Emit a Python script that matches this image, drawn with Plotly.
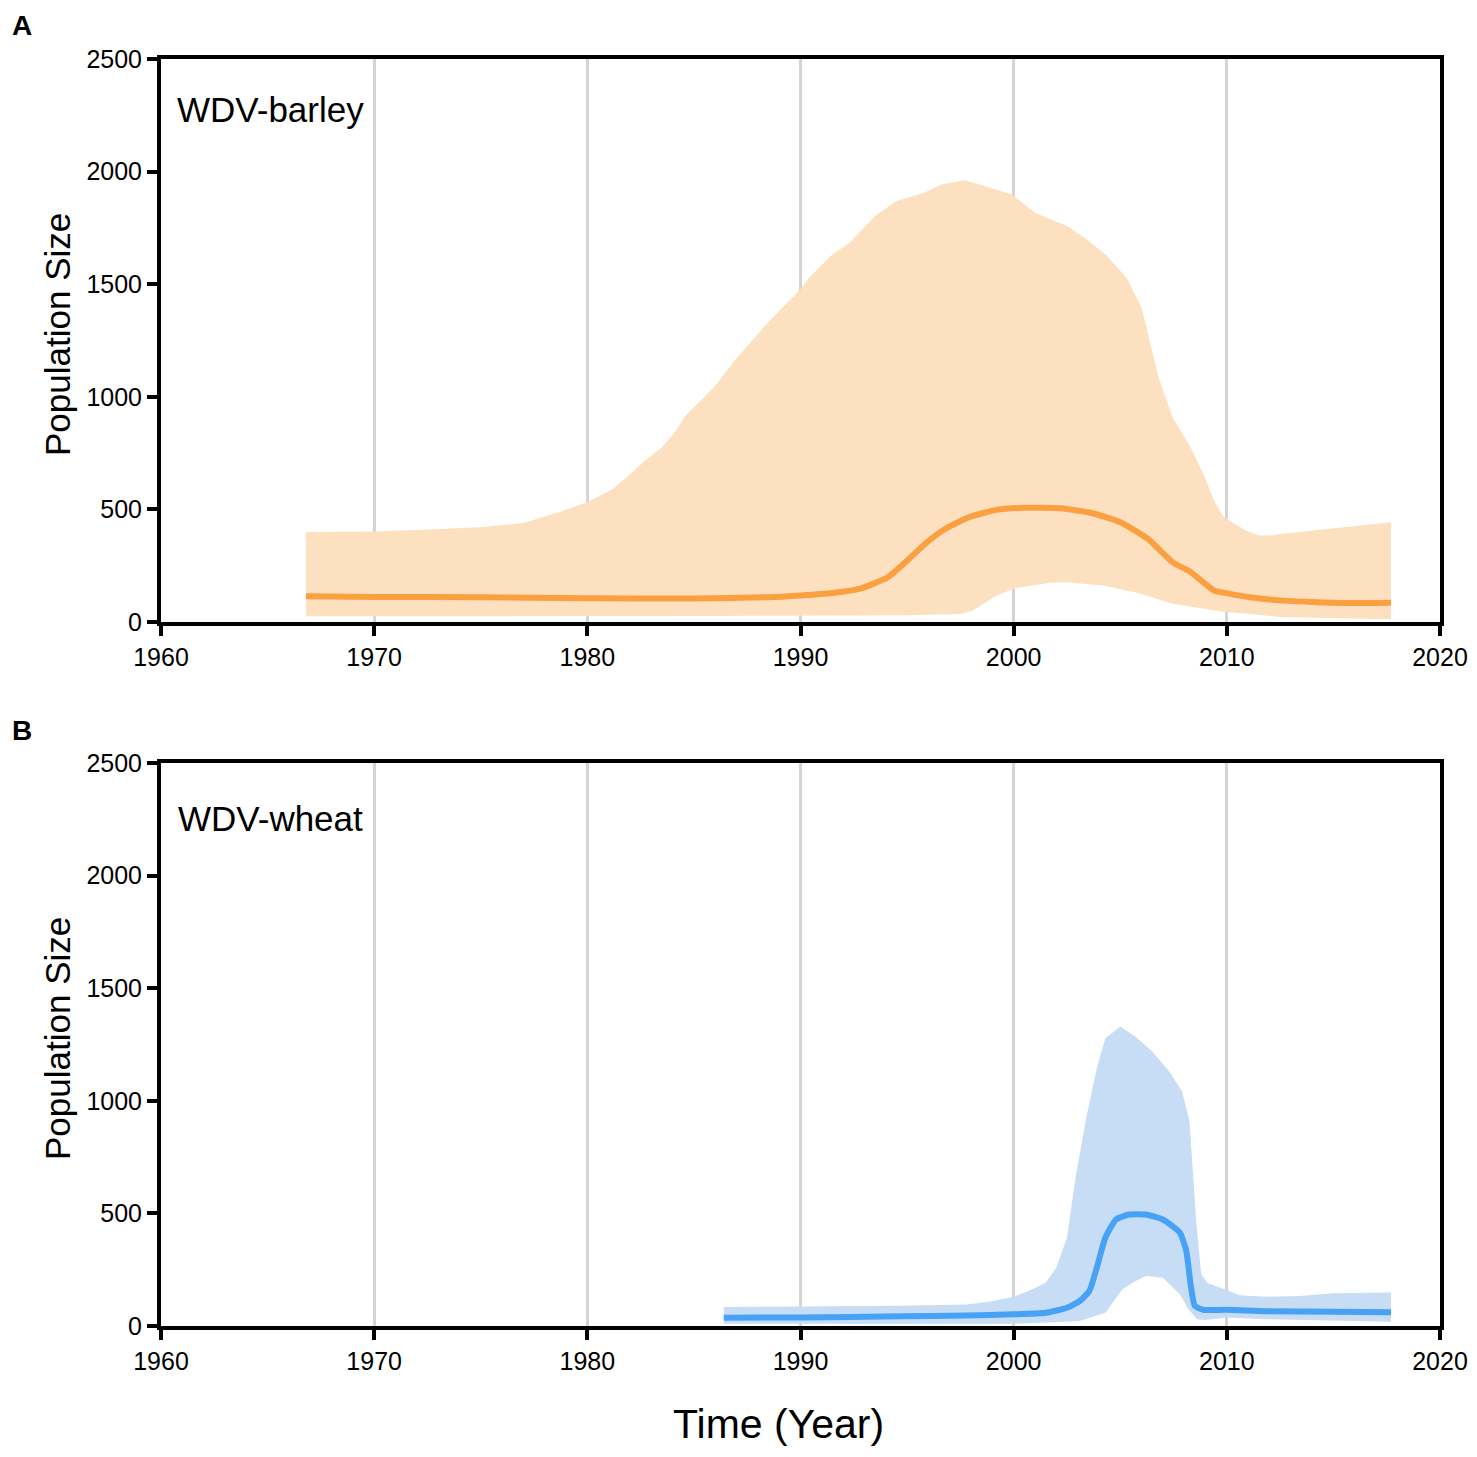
import plotly.graph_objects as go

# WDV-barley (panel A): upper / lower bounds of the band and the median
barley_upper_year = [1966.8, 1970, 1972, 1975, 1977, 1978.7, 1980, 1981.2, 1982.1, 1982.8,
                     1983.5, 1984.1, 1984.6, 1985.2, 1986.0, 1986.9, 1988.4, 1990.0, 1990.4,
                     1991.5, 1992.3, 1993.5, 1994.5, 1995.8, 1996.6, 1997.7, 1998.6, 1999.9,
                     2001.0, 2001.9, 2002.5, 2003.3, 2004.3, 2005.3, 2006.0, 2006.8, 2007.45,
                     2008.3, 2008.9, 2009.4, 2009.8, 2010.1, 2010.9, 2011.5, 2012.1, 2012.5,
                     2014.0, 2015.6, 2017.2, 2017.7]
barley_upper = [400, 402, 408, 421, 440, 488, 532, 591, 665, 724,
                776, 842, 916, 975, 1049, 1160, 1322, 1478, 1529,
                1633, 1684, 1803, 1869, 1906, 1943, 1962, 1935, 1899,
                1817, 1780, 1758, 1707, 1633, 1529, 1396, 1086, 909,
                776, 657, 539, 473, 451, 406, 384, 384, 391,
                406, 424, 438, 443]

barley_lower_year = [1966.8, 1975, 1985, 1995, 1997.5, 1998.1, 1999.2, 2000.1, 2001.7, 2002.5,
                     2004.2, 2005.8, 2007.45, 2009.9, 2011.0, 2012.5, 2017.7]
barley_lower = [25, 25, 27, 30, 35, 52, 118, 151, 174, 177,
                162, 130, 81, 44, 37, 22, 12]

barley_med_year = [1966.8, 1970, 1975, 1980, 1985, 1988.5, 1990, 1991.5, 1992.8, 1994.1,
                   1995.1, 1995.95, 1996.8, 1997.9, 1999.2, 2000.5, 2002.2, 2003.7, 2005.0,
                   2006.3, 2007.45, 2008.3, 2009.4, 2010.1, 2011.0, 2012.5, 2014.0, 2015.6,
                   2017.7]
barley_med = [114, 111, 110, 106, 104, 110, 118, 129, 148, 199,
              281, 355, 414, 465, 498, 507, 505, 483, 443,
              369, 266, 222, 140, 126, 111, 96, 89, 84,
              86]

# WDV-wheat (panel B)
wheat_upper_year = [1986.4, 1990, 1994.7, 1997.8, 1999.0, 2000.0, 2000.7, 2001.5, 2002.0, 2002.5,
                    2002.9, 2003.4, 2003.9, 2004.3, 2005.0, 2005.7, 2006.5, 2007.3, 2007.9,
                    2008.25, 2008.55, 2008.8, 2009.1, 2010.0, 2010.6, 2011.8, 2013.4, 2015.0,
                    2016.5, 2017.7]
wheat_upper = [84, 87, 90, 96, 110, 130, 155, 192, 259, 392,
               657, 923, 1145, 1278, 1330, 1285, 1219, 1130, 1042,
               909, 480, 229, 190, 160, 137, 130, 133, 145,
               149, 149]

wheat_lower_year = [1986.4, 1995, 2000, 2003.1, 2004.3, 2005.1, 2005.7, 2006.2, 2007.0, 2007.8,
                    2008.2, 2008.6, 2009.0, 2010.0, 2011.8, 2015.0, 2017.7]
wheat_lower = [10, 10, 10, 22, 59, 163, 199, 222, 214, 140,
               74, 30, 27, 38, 30, 24, 19]

wheat_med_year = [1986.4, 1990, 1994.7, 1997.8, 2000.0, 2001.5, 2002.5, 2003.1, 2003.55, 2003.9,
                  2004.3, 2004.8, 2005.4, 2006.2, 2007.0, 2007.8, 2008.1, 2008.3, 2008.5,
                  2008.9, 2010.0, 2011.8, 2015.0, 2017.7]
wheat_med = [37, 38, 43, 47, 52, 59, 81, 111, 155, 259,
             392, 473, 495, 495, 473, 414, 332, 185, 89,
             72, 72, 66, 63, 61]

year_ticks = [1960, 1970, 1980, 1990, 2000, 2010, 2020]
size_ticks = [0, 500, 1000, 1500, 2000, 2500]

FONT = "Liberation Sans, Arial, sans-serif"
ORANGE = "#fba040"
ORANGE_FILL = "#fde0c0"
BLUE = "#47a2f6"
BLUE_FILL = "#c7ddf6"

# the page body has an 8px margin, so the figure is drawn 16px smaller
W, H = 1461, 1441
OFF = 8


def px(x):
    return (x - OFF) / W


def py(y):
    return 1 - (y - OFF) / H


fig = go.Figure()


def add_panel(fig, up_x, up_y, lo_x, lo_y, med_x, med_y, line_col, fill_col, xa, ya):
    # band as one closed polygon: upper edge, then lower edge reversed
    fig.add_trace(go.Scatter(
        x=up_x + lo_x[::-1], y=up_y + lo_y[::-1],
        fill="toself", fillcolor=fill_col, mode="lines",
        line=dict(width=0, color=fill_col),
        xaxis=xa, yaxis=ya, hoverinfo="skip", showlegend=False,
    ))
    fig.add_trace(go.Scatter(
        x=med_x, y=med_y, mode="lines",
        line=dict(color=line_col, width=6, shape="spline", smoothing=0.5),
        xaxis=xa, yaxis=ya, showlegend=False,
    ))


add_panel(fig, barley_upper_year, barley_upper, barley_lower_year, barley_lower,
          barley_med_year, barley_med, ORANGE, ORANGE_FILL, "x", "y")
add_panel(fig, wheat_upper_year, wheat_upper, wheat_lower_year, wheat_lower,
          wheat_med_year, wheat_med, BLUE, BLUE_FILL, "x2", "y2")

xaxis_style = dict(
    range=[1960, 2020], tickvals=year_ticks, ticktext=[str(t) for t in year_ticks],
    showgrid=True, gridcolor="#d4d4d4", gridwidth=3,
    showline=True, linecolor="black", linewidth=4, mirror=True,
    ticks="outside", ticklen=10, tickwidth=4, tickcolor="black",
    tickfont=dict(family=FONT, size=25, color="black"),
    zeroline=False, automargin=False,
)
yaxis_style = dict(
    range=[0, 2500], tickvals=size_ticks,
    showgrid=False,
    showline=True, linecolor="black", linewidth=4, mirror=True,
    ticks="outside", ticklen=10, tickwidth=4, tickcolor="black",
    tickfont=dict(family=FONT, size=25, color="black"),
    zeroline=False, automargin=False,
)

X_DOM = [px(161), px(1440)]
fig.update_layout(
    template="none",
    width=W, height=H,
    margin=dict(l=0, r=0, t=0, b=0, pad=0),
    paper_bgcolor="white", plot_bgcolor="white",
    showlegend=False,
    xaxis=dict(domain=X_DOM, anchor="y", **xaxis_style),
    yaxis=dict(domain=[py(622), py(59)], anchor="x", **yaxis_style),
    xaxis2=dict(domain=X_DOM, anchor="y2", **xaxis_style),
    yaxis2=dict(domain=[py(1326), py(763)], anchor="x2", **yaxis_style),
)

annots = [
    dict(text="<b>A</b>", x=px(10), y=1, size=28, xanchor="left", yanchor="top", angle=0),
    dict(text="<b>B</b>", x=px(10), y=py(730), size=28, xanchor="left", yanchor="middle", angle=0),
    dict(text="WDV-barley", x=px(175), y=py(109), size=35, xanchor="left", yanchor="middle", angle=0),
    dict(text="WDV-wheat", x=px(176), y=py(818), size=35, xanchor="left", yanchor="middle", angle=0),
    dict(text="Population Size", x=px(57), y=py(335), size=35, xanchor="center", yanchor="middle", angle=-90),
    dict(text="Population Size", x=px(57), y=py(1039), size=35, xanchor="center", yanchor="middle", angle=-90),
    dict(text="Time (Year)", x=px(778), y=0, size=41, xanchor="center", yanchor="bottom", angle=0),
]
for a in annots:
    fig.add_annotation(
        text=a["text"], x=a["x"], y=a["y"], xref="paper", yref="paper",
        xanchor=a["xanchor"], yanchor=a["yanchor"], textangle=a["angle"],
        showarrow=False, font=dict(family=FONT, size=a["size"], color="black"),
    )

fig.write_html("out.html")
